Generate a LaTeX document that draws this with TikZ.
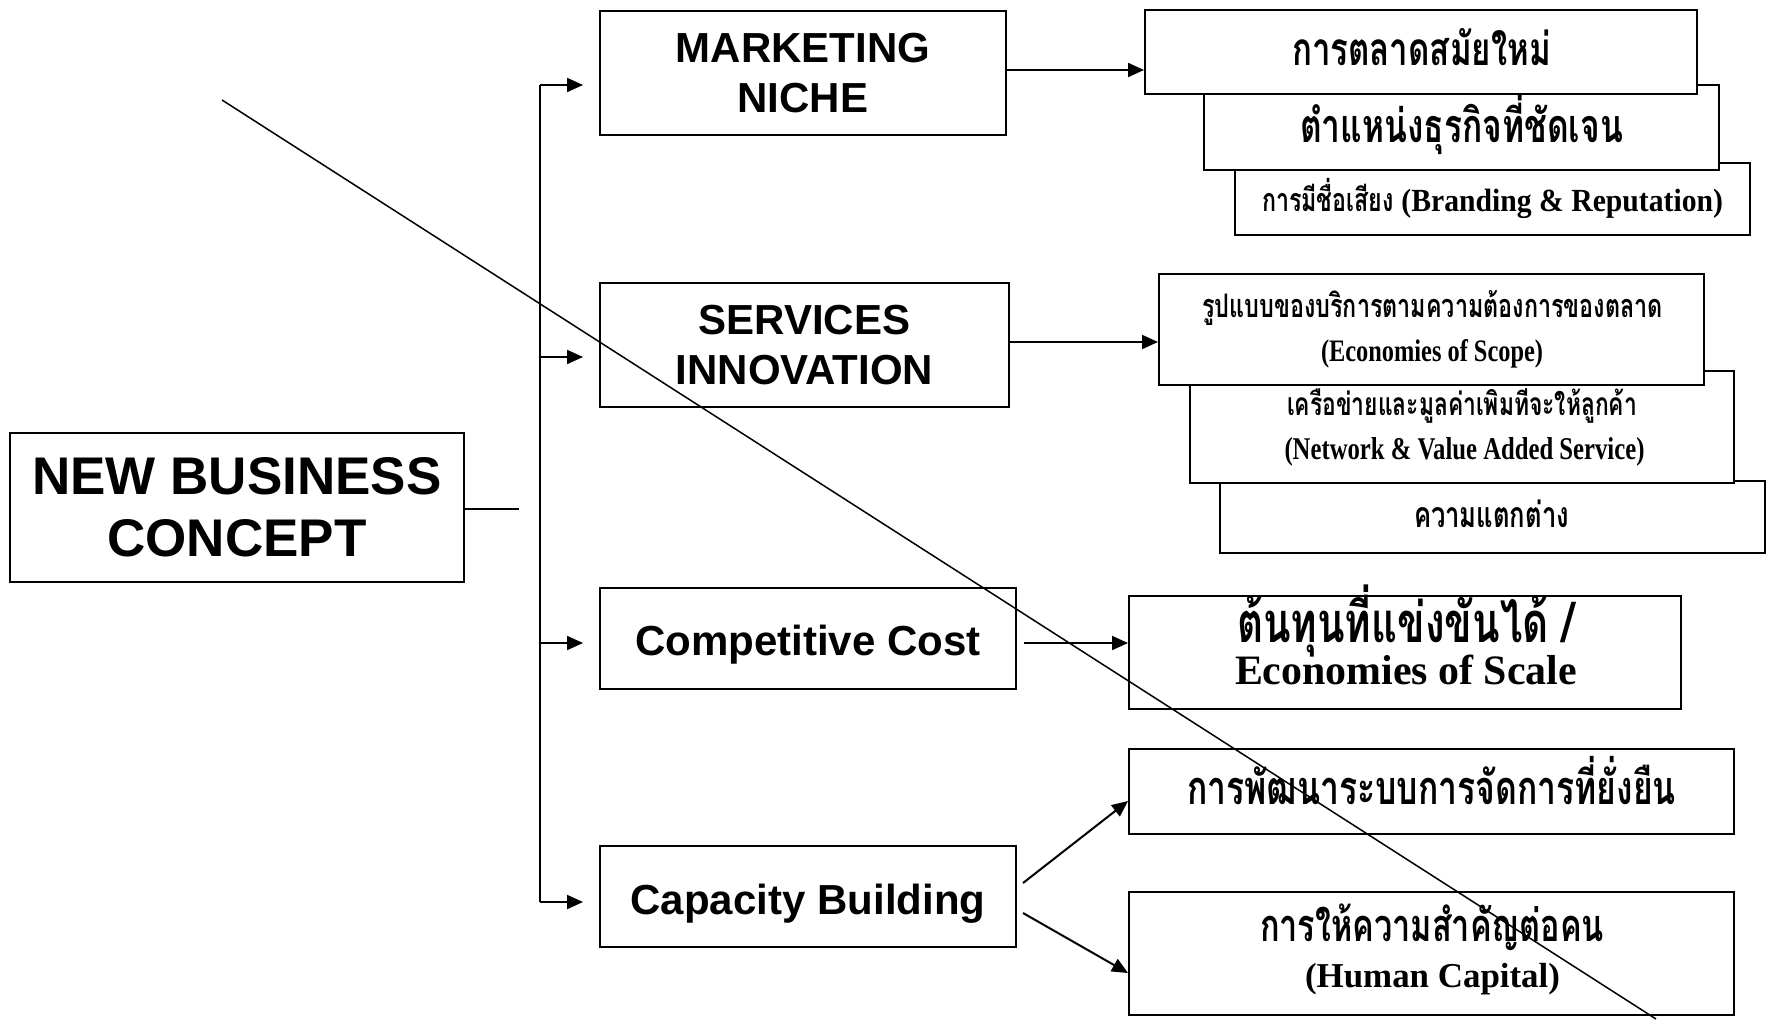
\documentclass[tikz,border=0pt]{standalone}
\usepackage{fontspec}
\usepackage{graphicx}
\usetikzlibrary{arrows.meta}
\setmainfont{Liberation Sans}
\newfontfamily\thai[Script=Thai,FakeStretch=0.72]{Loma}
\newfontfamily\enser[FakeStretch=0.78]{Liberation Serif}
\newfontfamily\ensern[FakeStretch=0.92]{Liberation Serif}
\newfontfamily\enserw{Liberation Serif}
\newcommand\fw[2]{\resizebox{#1}{!}{#2}}
\begin{document}
\begin{tikzpicture}[x=0.5pt,y=-0.5pt,
  box/.style={draw, line width=1pt, fill=white, inner sep=0pt},
  ln/.style={line width=1pt},
  arr/.style={line width=1pt, -{Triangle[length=8pt,width=7pt]}},
  lbl/.style={font=\bfseries\fontsize{21pt}{25.25pt}\selectfont, align=center},
  th/.style={anchor=base, inner sep=0pt, font=\thai\bfseries\fontsize{20pt}{24pt}\selectfont}]
\useasboundingbox (0,0) rectangle (1776,1023);
% left and middle boxes
\node[box, minimum width=227pt, minimum height=74.5pt, align=center,
      font=\bfseries\fontsize{26.5pt}{31pt}\selectfont] (nbc) at (237,507.5) {NEW BUSINESS\\CONCEPT};
\node[box, lbl, minimum width=203pt, minimum height=62pt] (mk) at (803,73) {MARKETING\\NICHE};
\node[box, lbl, minimum width=204.5pt, minimum height=62pt] (si) at (804.5,345) {SERVICES\\INNOVATION};
\node[box, lbl, minimum width=208pt, minimum height=50.5pt, text height=17pt, text depth=0pt] (cc) at (808,638.5) {Competitive Cost};
\node[box, lbl, minimum width=208pt, minimum height=50.5pt, text height=18pt, text depth=0pt] (cb) at (808,896.5) {Capacity Building};
% right stacked boxes (back to front)
\node[box, minimum width=257.5pt, minimum height=36pt] (r3) at (1492.5,199) {};
\node[box, minimum width=257.5pt, minimum height=42.5pt] (r2) at (1461.5,127.5) {};
\node[box, minimum width=276pt, minimum height=42.25pt] (r1) at (1421,51.75) {};
\node[box, minimum width=272.5pt, minimum height=36pt] (r6) at (1492.5,517) {};
\node[box, minimum width=272pt, minimum height=56pt] (r5) at (1462,427) {};
\node[box, minimum width=272.5pt, minimum height=55.5pt] (r4) at (1431.5,329.5) {};
\node[box, minimum width=276pt, minimum height=56.5pt] (r7) at (1405,652.5) {};
\node[box, minimum width=302.5pt, minimum height=42.5pt] (r8) at (1431.5,791.5) {};
\node[box, minimum width=302.5pt, minimum height=61.5pt] (r9) at (1431.5,953.5) {};
% texts in right boxes
\node[th] (t1) at (1421.5,65.5) {\fw{129.5pt}{การตลาดสมัยใหม่}};
\node[th] (t2) at (1461.5,142.5) {\fw{161.5pt}{ตำแหน่งธุรกิจที่ชัดเจน}};
\node[th] (t3) at (1492.5,211.5) {\fw{230.5pt}{การมีชื่อเสียง \ensern(Branding \& Reputation)}};
\node[th] (t4a) at (1432.5,317) {\fw{230.5pt}{รูปแบบของบริการตามความต้องการของตลาด}};
\node[th] (t4b) at (1432,361) {\fw{111pt}{\enser(Economies of Scope)}};
\node[th] (t5a) at (1462,415.5) {\fw{175pt}{เครือข่ายและมูลค่าเพิมทีจะให้ลูกค้า}};
\node[th] (t5b) at (1464.5,459) {\fw{180pt}{\enser(Network \& Value Added Service)}};
\node[th] (t6) at (1491.5,527) {\fw{77.5pt}{ความแตกต่าง}};
\node[th] (t7a) at (1405.5,642) {\fw{168.5pt}{ต้นทุนที่แข่งขันได้ /}};
\node[th] (t7b) at (1406,684) {\fw{171pt}{\enserw Economies of Scale}};
\node[th] (t8) at (1431.5,804.5) {\fw{244.5pt}{การพัฒนาระบบการจัดการที่ยั่งยืน}};
\node[th] (t9a) at (1432,941) {\fw{172pt}{การให้ความสำคัญต่อคน}};
\node[th] (t9b) at (1432.5,987) {\fw{127.5pt}{\enserw(Human Capital)}};
% trunk and branch arrows
\coordinate (j) at (519,509);
\coordinate (k1) at (540,85);
\coordinate (k2) at (540,357);
\coordinate (k3) at (540,643);
\coordinate (k4) at (540,902);
\draw[ln] (nbc.east |- j) -- (j);
\draw[ln] (k1) -- (k4);
\draw[arr, shorten >=8pt] (k1) -- (k1 -| mk.west);
\draw[arr, shorten >=8pt] (k2) -- (k2 -| si.west);
\draw[arr, shorten >=8pt] (k3) -- (k3 -| cc.west);
\draw[arr, shorten >=8pt] (k4) -- (k4 -| cb.west);
% second level arrows
\draw[arr] (mk.east |- 0,70) -- (r1.west |- 0,70);
\draw[arr] (si.east |- 0,342) -- (r4.west |- 0,342);
\draw[arr, shorten <=3.5pt] (cc.east |- 0,643) -- (r7.west |- 0,643);
\coordinate (c1) at (1023,883);
\coordinate (c2) at (1023,913);
\draw[arr] (c1) -- (r8.west |- 0,801);
\draw[arr] (c2) -- (r9.west |- 0,973);
% stray diagonal line
\coordinate (d1) at (222,100);
\coordinate (d2) at (1656,1019);
\draw[line width=0.75pt] (d1) -- (d2);
\end{tikzpicture}
\end{document}
